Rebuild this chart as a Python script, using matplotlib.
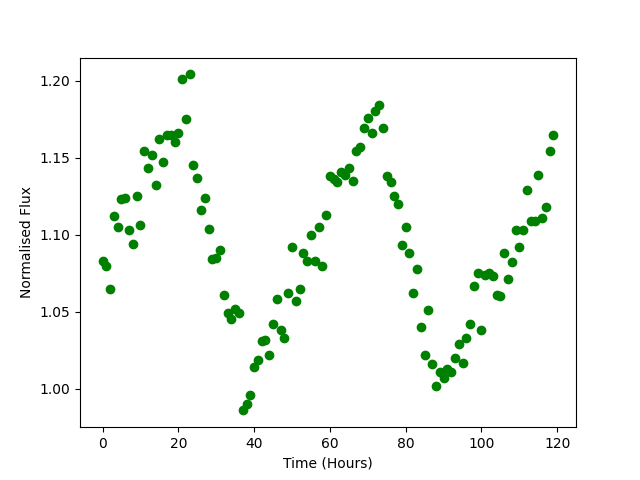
import matplotlib
matplotlib.use("Agg")
import matplotlib.pyplot as plt

# hourly samples
hours = list(range(120))
flux = [
    1.083, 1.080, 1.065, 1.112, 1.105, 1.123, 1.124, 1.103, 1.094, 1.125,
    1.106, 1.154, 1.143, 1.152, 1.132, 1.162, 1.147, 1.165, 1.165, 1.160,
    1.166, 1.201, 1.175, 1.204, 1.145, 1.137, 1.116, 1.124, 1.104, 1.084,
    1.085, 1.090, 1.061, 1.049, 1.045, 1.052, 1.049, 0.986, 0.990, 0.996,
    1.014, 1.019, 1.031, 1.032, 1.022, 1.042, 1.058, 1.038, 1.033, 1.062,
    1.092, 1.057, 1.065, 1.088, 1.083, 1.100, 1.083, 1.105, 1.080, 1.113,
    1.138, 1.136, 1.134, 1.141, 1.139, 1.143, 1.135, 1.154, 1.157, 1.169,
    1.176, 1.166, 1.180, 1.184, 1.169, 1.138, 1.134, 1.125, 1.120, 1.093,
    1.105, 1.088, 1.062, 1.078, 1.040, 1.022, 1.051, 1.016, 1.002, 1.011,
    1.007, 1.013, 1.011, 1.020, 1.029, 1.017, 1.033, 1.042, 1.067, 1.075,
    1.038, 1.074, 1.075, 1.073, 1.061, 1.060, 1.088, 1.071, 1.082, 1.103,
    1.092, 1.103, 1.129, 1.109, 1.109, 1.139, 1.111, 1.118, 1.154, 1.165,
]

fig, ax = plt.subplots(figsize=(6.4, 4.8), dpi=100)
ax.plot(hours, flux, 'o', color='green')
ax.set_xlabel("Time (Hours)")
ax.set_ylabel("Normalised Flux")
fig.savefig("out.png")
